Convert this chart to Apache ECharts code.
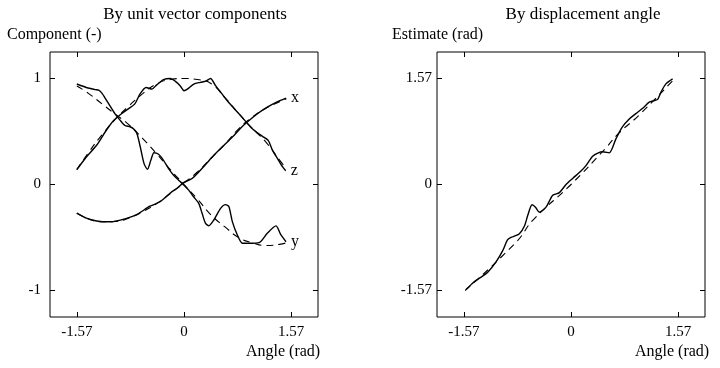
<!DOCTYPE html>
<html>
<head>
<meta charset="utf-8">
<script src="https://cdn.jsdelivr.net/npm/echarts@6/dist/echarts.min.js"></script>
<style>
html,body{margin:0;padding:0;background:#fff;}
#chart{width:720px;height:368px;}
</style>
</head>
<body>
<div id="chart"></div>
<script>
// ---- tick labels ----
const angleTicks = [-1.57, 0, 1.57];
const componentTicks = [-1, 0, 1];
const axisRange = 1.9625;
const compRange = 1.25;

// ---- left panel: unit vector components (angle, value) ----
const xMeasured = [[-1.57,-0.27],[-1.43,-0.318],[-1.28,-0.344],[-1.1,-0.352],[-1.037,-0.35],[-0.84,-0.32],[-0.693,-0.285],[-0.5,-0.205],[-0.35,-0.163],[-0.2,-0.08],[-0.103,-0.035],[0,0.02],[0.118,0.056],[0.29,0.17],[0.437,0.275],[0.6,0.38],[0.732,0.463],[0.85,0.545],[0.953,0.604],[1.08,0.67],[1.22,0.73],[1.35,0.775],[1.494,0.815]];
const xTrue = [[-1.57,-0.27],[-1.4,-0.325],[-1.2,-0.352],[-1.0,-0.348],[-0.8,-0.315],[-0.6,-0.255],[-0.4,-0.18],[-0.2,-0.085],[0,0.015],[0.2,0.12],[0.4,0.25],[0.6,0.38],[0.8,0.525],[1.0,0.635],[1.2,0.72],[1.4,0.78],[1.5,0.81]];

const yMeasured = [[-1.57,0.948],[-1.405,0.91],[-1.3,0.895],[-1.25,0.89],[-1.2,0.86],[-1.16,0.82],[-1.086,0.745],[-1.01,0.667],[-0.94,0.61],[-0.865,0.557],[-0.79,0.545],[-0.74,0.526],[-0.69,0.48],[-0.64,0.354],[-0.585,0.197],[-0.535,0.144],[-0.486,0.228],[-0.44,0.3],[-0.373,0.285],[-0.3,0.228],[-0.226,0.15],[-0.152,0.088],[-0.079,0.041],[0,-0.006],[0.069,-0.053],[0.14,-0.116],[0.216,-0.178],[0.265,-0.272],[0.315,-0.366],[0.364,-0.39],[0.437,-0.335],[0.536,-0.225],[0.609,-0.19],[0.658,-0.21],[0.708,-0.35],[0.781,-0.476],[0.855,-0.554],[0.953,-0.554],[1.1,-0.548],[1.22,-0.46],[1.347,-0.39],[1.42,-0.476],[1.494,-0.54]];
const yTrue = [[-1.57,0.93],[-1.4,0.86],[-1.2,0.76],[-1.0,0.66],[-0.8,0.56],[-0.6,0.43],[-0.4,0.29],[-0.2,0.14],[0,0.0],[0.2,-0.14],[0.4,-0.29],[0.6,-0.4],[0.8,-0.5],[1.0,-0.55],[1.2,-0.575],[1.4,-0.565],[1.5,-0.55]];

const zMeasured = [[-1.57,0.14],[-1.43,0.26],[-1.28,0.37],[-1.15,0.5],[-1.037,0.6],[-0.89,0.68],[-0.816,0.714],[-0.72,0.76],[-0.644,0.854],[-0.555,0.915],[-0.47,0.9],[-0.4,0.94],[-0.3,0.99],[-0.2,1.0],[-0.13,0.975],[-0.054,0.93],[0,0.885],[0.05,0.9],[0.143,0.948],[0.24,0.964],[0.32,0.975],[0.388,1.0],[0.462,0.933],[0.55,0.86],[0.634,0.79],[0.73,0.72],[0.83,0.65],[0.978,0.54],[1.07,0.49],[1.15,0.454],[1.233,0.416],[1.297,0.322],[1.37,0.244],[1.445,0.166],[1.49,0.13]];
const zTrue = [[-1.57,0.14],[-1.4,0.3],[-1.2,0.47],[-1.0,0.62],[-0.8,0.745],[-0.6,0.86],[-0.4,0.95],[-0.2,0.99],[0,1.0],[0.2,0.99],[0.4,0.95],[0.6,0.82],[0.8,0.67],[1.0,0.53],[1.2,0.4],[1.4,0.23],[1.5,0.15]];

// ---- right panel: estimate by displacement angle (angle, estimate) ----
const angleMeasured = [[-1.536,-1.555],[-1.45,-1.47],[-1.39,-1.42],[-1.3,-1.36],[-1.22,-1.3],[-1.1,-1.15],[-1.0,-0.98],[-0.93,-0.82],[-0.87,-0.78],[-0.83,-0.765],[-0.756,-0.73],[-0.68,-0.61],[-0.634,-0.46],[-0.57,-0.3],[-0.52,-0.336],[-0.463,-0.41],[-0.366,-0.336],[-0.268,-0.16],[-0.17,-0.12],[-0.073,0.0],[0.024,0.09],[0.146,0.2],[0.219,0.28],[0.317,0.42],[0.4,0.47],[0.463,0.485],[0.56,0.469],[0.658,0.676],[0.75,0.85],[0.853,0.97],[0.95,1.05],[1.05,1.13],[1.146,1.22],[1.22,1.244],[1.27,1.26],[1.317,1.367],[1.39,1.49],[1.488,1.565]];
const angleTrue = [[-1.55,-1.57],[-0.8,-0.85],[-0.55,-0.52],[0,0.0],[0.5,0.53],[0.7,0.76],[1.0,1.03],[1.5,1.55]];

const FONT = 'Liberation Serif';
const BLACK = '#000';

function xAx(grid, pos, labels) {
  return {
    type: 'value', gridIndex: grid, position: pos,
    min: -axisRange, max: axisRange,
    axisLine: { show: false, onZero: false },
    splitLine: { show: false },
    axisTick: { show: true, inside: true, length: 5, customValues: angleTicks, lineStyle: { color: BLACK } },
    axisLabel: { show: labels, customValues: angleTicks, margin: 8, color: BLACK, fontFamily: FONT, fontSize: 15 }
  };
}
function yAx(grid, pos, labels, range, ticks, margin) {
  return {
    type: 'value', gridIndex: grid, position: pos,
    min: -range, max: range,
    axisLine: { show: false, onZero: false },
    splitLine: { show: false },
    axisTick: { show: true, inside: true, length: 5, customValues: ticks, lineStyle: { color: BLACK } },
    axisLabel: { show: labels, customValues: ticks, margin: margin, color: BLACK, fontFamily: FONT, fontSize: 15 }
  };
}
function solid(data, xi, yi, name, label) {
  const s = {
    name: name, type: 'line', data: data, xAxisIndex: xi, yAxisIndex: yi,
    showSymbol: false, smooth: 0.25,
    lineStyle: { color: BLACK, width: 1.4 }
  };
  if (label) {
    s.endLabel = { show: true, formatter: label, distance: 5, color: BLACK, fontFamily: FONT, fontSize: 16 };
  }
  return s;
}
function dashed(data, xi, yi, name) {
  return {
    name: name, type: 'line', data: data, xAxisIndex: xi, yAxisIndex: yi,
    showSymbol: false, smooth: true,
    lineStyle: { color: BLACK, width: 1.1, type: [7, 5] }
  };
}
function txt(str, x, y, align, size) {
  return { type: 'text', x: x, y: y,
    style: { text: str, fill: BLACK, font: size + 'px "' + FONT + '"', textAlign: align, textVerticalAlign: 'middle' } };
}

const chart = echarts.init(document.getElementById('chart'), null, { renderer: 'canvas' });
chart.setOption({
  backgroundColor: '#fff',
  animation: false,
  grid: [
    { left: 50, top: 52, width: 268, height: 265, show: true, borderColor: BLACK, borderWidth: 1, backgroundColor: '#fff' },
    { left: 437, top: 52, width: 268, height: 265, show: true, borderColor: BLACK, borderWidth: 1, backgroundColor: '#fff' }
  ],
  xAxis: [
    xAx(0, 'bottom', true), xAx(0, 'top', false),
    xAx(1, 'bottom', true), xAx(1, 'top', false)
  ],
  yAxis: [
    yAx(0, 'left', true, compRange, componentTicks, 9), yAx(0, 'right', false, compRange, componentTicks, 9),
    yAx(1, 'left', true, axisRange, angleTicks, 5), yAx(1, 'right', false, axisRange, angleTicks, 5)
  ],
  series: [
    dashed(xTrue, 0, 0, 'x true'),
    dashed(yTrue, 0, 0, 'y true'),
    dashed(zTrue, 0, 0, 'z true'),
    solid(xMeasured, 0, 0, 'x', 'x'),
    solid(yMeasured, 0, 0, 'y', 'y'),
    solid(zMeasured, 0, 0, 'z', 'z'),
    dashed(angleTrue, 2, 2, 'true angle'),
    solid(angleMeasured, 2, 2, 'estimate')
  ],
  graphic: [
    txt('By unit vector components', 195, 15, 'center', 17),
    txt('Component (-)', 7, 35, 'left', 16),
    txt('Angle (rad)', 246, 352, 'left', 16),
    txt('By displacement angle', 583, 15, 'center', 17),
    txt('Estimate (rad)', 392, 35, 'left', 16),
    txt('Angle (rad)', 635, 352, 'left', 16)
  ]
});
</script>
</body>
</html>
